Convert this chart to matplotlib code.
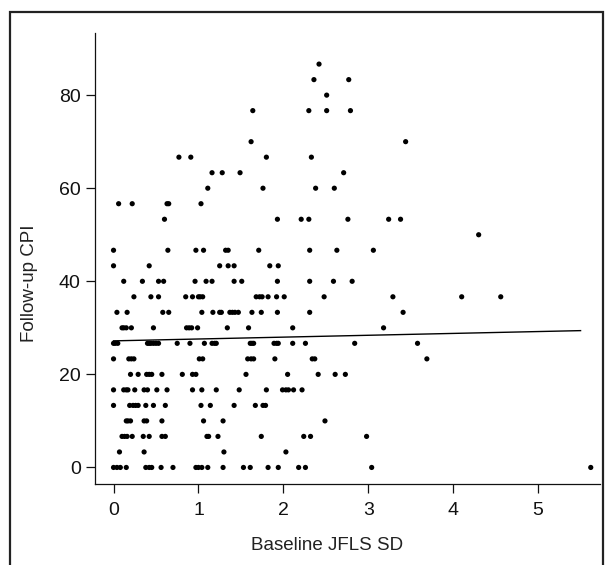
import numpy as np
import matplotlib
matplotlib.use("Agg")
import matplotlib.pyplot as plt
from matplotlib.patches import Rectangle

plt.rcParams['font.family'] = ['Liberation Sans', 'DejaVu Sans']

# Follow-up CPI takes discrete levels; baseline JFLS SD values read per level
cpi_levels = [86.67, 83.33, 80.0, 76.67, 70.0, 66.67, 63.33, 60.0, 56.67, 53.33,
              50.0, 46.67, 43.33, 40.0, 36.67, 33.33, 30.0, 26.67, 23.33, 20.0,
              16.67, 13.33, 10.0, 6.67, 3.33, 0.0]

jfls_rows = [
    [2.42],
    [2.36, 2.77],
    [2.51],
    [1.64, 2.30, 2.51, 2.79],
    [1.62, 3.44],
    [0.77, 0.91, 1.80, 2.33],
    [1.16, 1.28, 1.49, 2.71],
    [1.11, 1.76, 2.38, 2.60],
    [0.06, 0.22, 0.63, 0.65, 1.03],
    [0.60, 1.93, 2.21, 2.30, 2.76, 3.24, 3.38],
    [4.30],
    [0.0, 0.64, 0.97, 1.06, 1.32, 1.35, 1.71, 2.31, 2.63, 3.06],
    [0.0, 0.42, 1.25, 1.35, 1.42, 1.84, 1.94],
    [0.12, 0.34, 0.53, 0.59, 0.96, 1.09, 1.16, 1.42, 1.51, 1.93, 2.31, 2.59, 2.81],
    [0.24, 0.44, 0.53, 0.85, 0.93, 1.00, 1.02, 1.05, 1.68, 1.72, 1.75, 1.82,
     1.92, 2.01, 2.48, 3.29, 4.10, 4.56],
    [0.04, 0.16, 0.58, 0.65, 1.04, 1.17, 1.25, 1.27, 1.37, 1.40, 1.43, 1.47,
     1.63, 1.74, 1.93, 2.31, 3.41],
    [0.10, 0.12, 0.15, 0.21, 0.47, 0.86, 0.89, 0.92, 0.99, 1.34, 1.59, 2.11, 3.18],
    [0.0, 0.02, 0.05, 0.40, 0.42, 0.44, 0.47, 0.50, 0.53, 0.75, 0.90, 1.07,
     1.16, 1.19, 1.21, 1.61, 1.63, 1.65, 1.89, 1.92, 1.94, 2.11, 2.26, 2.84, 3.58],
    [0.0, 0.18, 0.21, 0.24, 1.01, 1.05, 1.58, 1.62, 1.65, 1.90, 2.34, 2.37, 3.69],
    [0.20, 0.29, 0.39, 0.42, 0.45, 0.57, 0.81, 0.93, 0.97, 1.56, 2.05, 2.41, 2.61, 2.73],
    [0.0, 0.12, 0.15, 0.17, 0.25, 0.36, 0.40, 0.51, 0.63, 0.93, 1.04, 1.21,
     1.48, 1.80, 1.99, 2.03, 2.06, 2.12, 2.22],
    [0.0, 0.19, 0.23, 0.26, 0.29, 0.38, 0.47, 0.61, 1.03, 1.14, 1.42, 1.67, 1.76, 1.79],
    [0.15, 0.17, 0.20, 0.36, 0.39, 0.57, 1.06, 1.29, 2.49],
    [0.10, 0.13, 0.16, 0.22, 0.35, 0.42, 0.57, 0.61, 1.10, 1.12, 1.23, 1.74,
     2.24, 2.32, 2.98],
    [0.07, 0.36, 1.30, 2.03],
    [0.0, 0.04, 0.08, 0.15, 0.38, 0.42, 0.45, 0.56, 0.70, 0.97, 1.00, 1.04,
     1.11, 1.29, 1.53, 1.61, 1.82, 1.94, 2.18, 2.26, 3.04, 5.62],
]

# model line as drawn in the figure (adjusted fit)
fit_intercept = 27.2
fit_slope = 0.40
fit_x_range = [0.0, 5.5]

x_ticks = [0, 1, 2, 3, 4, 5]
y_ticks = [0, 20, 40, 60, 80]

jfls_sd = np.concatenate([np.array(r, dtype=float) for r in jfls_rows])
cpi = np.concatenate([np.full(len(r), lvl) for r, lvl in zip(jfls_rows, cpi_levels)])
fx = np.array(fit_x_range)

fig = plt.figure(figsize=(6.08, 5.65), dpi=100)
ax = fig.add_axes([0.156, 0.143, 0.831, 0.799])

ax.scatter(jfls_sd, cpi, s=14, color='black', edgecolors='none', zorder=3)
ax.plot(fx, fit_intercept + fit_slope * fx, color='black', linewidth=1.0)

ax.set_xlim(-0.22, 5.73)
ax.set_ylim(-3.6, 93.4)
ax.set_xticks(x_ticks)
ax.set_yticks(y_ticks)

for s in ['top', 'right']:
    ax.spines[s].set_visible(False)
for s in ['left', 'bottom']:
    ax.spines[s].set_linewidth(0.9)
    ax.spines[s].set_color('#111111')

ax.tick_params(axis='x', length=6.5, width=0.9, pad=6.5, labelsize=14, colors='#111111')
ax.tick_params(axis='y', length=6.5, width=0.9, pad=3.6, labelsize=14, colors='#111111')

ax.set_xlabel('Baseline JFLS SD', fontsize=13.5, color='#222222')
ax.set_ylabel('Follow-up CPI', fontsize=13.5, color='#222222')
ax.xaxis.set_label_coords(0.459, -0.118)
ax.yaxis.set_label_coords(-0.113, 0.446)

# outer frame around the panel
fig.add_artist(Rectangle((10 / 608, -0.05), 593 / 608, 1.05 - 12.5 / 565,
                         transform=fig.transFigure, fill=False,
                         edgecolor='#222222', linewidth=1.6))

fig.savefig('out.png', dpi=100)
